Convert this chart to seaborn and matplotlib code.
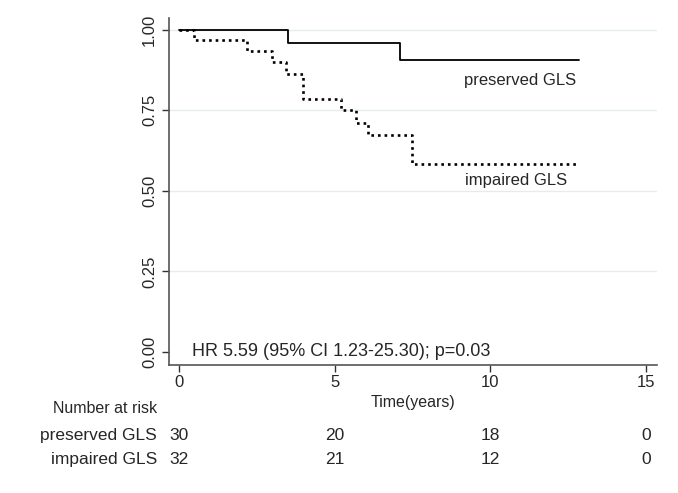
import pandas as pd
import seaborn as sns
import matplotlib.pyplot as plt

# Kaplan-Meier step values
pres_time = [0, 3.5, 7.1, 12.85]
pres_surv = [1.00, 0.957, 0.907, 0.907]
imp_time = [0, 0.5, 2.2, 3.0, 3.43, 3.98, 5.22, 5.7, 6.06, 7.47, 12.75]
imp_surv = [1.00, 0.968, 0.933, 0.899, 0.861, 0.784, 0.75, 0.71, 0.674, 0.582, 0.582]

risk_times = [0, 5, 10, 15]
risk_pres = [30, 20, 18, 0]
risk_imp = [32, 21, 12, 0]

df_pres = pd.DataFrame({'time': pres_time, 'surv': pres_surv})
df_imp = pd.DataFrame({'time': imp_time, 'surv': imp_surv})

sns.set_style('white')
plt.rcParams['font.family'] = ['Liberation Sans', 'DejaVu Sans']

fig = plt.figure(figsize=(6.78, 4.93), dpi=100)
ax = fig.add_axes([0.249, 0.260, 0.72, 0.703])

# light horizontal grid
for yv in [0.25, 0.5, 0.75, 1.0]:
    ax.axhline(yv, color='#e6eced', lw=1.0, zorder=0)

sns.lineplot(x='time', y='surv', data=df_pres, ax=ax, color='black', lw=1.3,
             drawstyle='steps-post', estimator=None, sort=False)
sns.lineplot(x='time', y='surv', data=df_imp, ax=ax, color='black', lw=1.9,
             linestyle=(0, (1, 1.5)), drawstyle='steps-post', estimator=None, sort=False)

ax.set_xlim(-0.32, 15.35)
ax.set_ylim(-0.04, 1.035)
ax.set_xticks(risk_times)
ax.set_yticks([0, 0.25, 0.5, 0.75, 1.0])
ax.set_yticklabels(['0.00', '0.25', '0.50', '0.75', '1.00'], rotation=90, va='center')
ax.tick_params(axis='both', direction='out', length=5, width=1, labelsize=12,
               color='#333333', left=True, bottom=True)
ax.tick_params(axis='x', pad=2)
ax.set_xlabel('Time(years)', fontsize=11.5, labelpad=4)
ax.set_ylabel('')
for s in ['top', 'right']:
    ax.spines[s].set_visible(False)
for s in ['left', 'bottom']:
    ax.spines[s].set_color('#555555')
    ax.spines[s].set_linewidth(1.2)

ax.text(12.75, 0.842, 'preserved GLS', ha='right', va='center', fontsize=12)
ax.text(12.47, 0.532, 'impaired GLS', ha='right', va='center', fontsize=12)
ax.text(0.42, 0.0, 'HR 5.59 (95% CI 1.23-25.30); p=0.03', ha='left', va='center', fontsize=13)

# number at risk table below the axis
trans = ax.get_xaxis_transform()
ax.text(-0.7, -0.127, 'Number at risk', transform=trans, ha='right', va='center', fontsize=11.5)
ax.text(-0.7, -0.205, 'preserved GLS', transform=trans, ha='right', va='center', fontsize=12.5)
ax.text(-0.7, -0.274, 'impaired GLS', transform=trans, ha='right', va='center', fontsize=12.5)
for t, a, b in zip(risk_times, risk_pres, risk_imp):
    ax.text(t, -0.205, str(a), transform=trans, ha='center', va='center', fontsize=12.5)
    ax.text(t, -0.274, str(b), transform=trans, ha='center', va='center', fontsize=12.5)

fig.savefig('out.png', dpi=100)
